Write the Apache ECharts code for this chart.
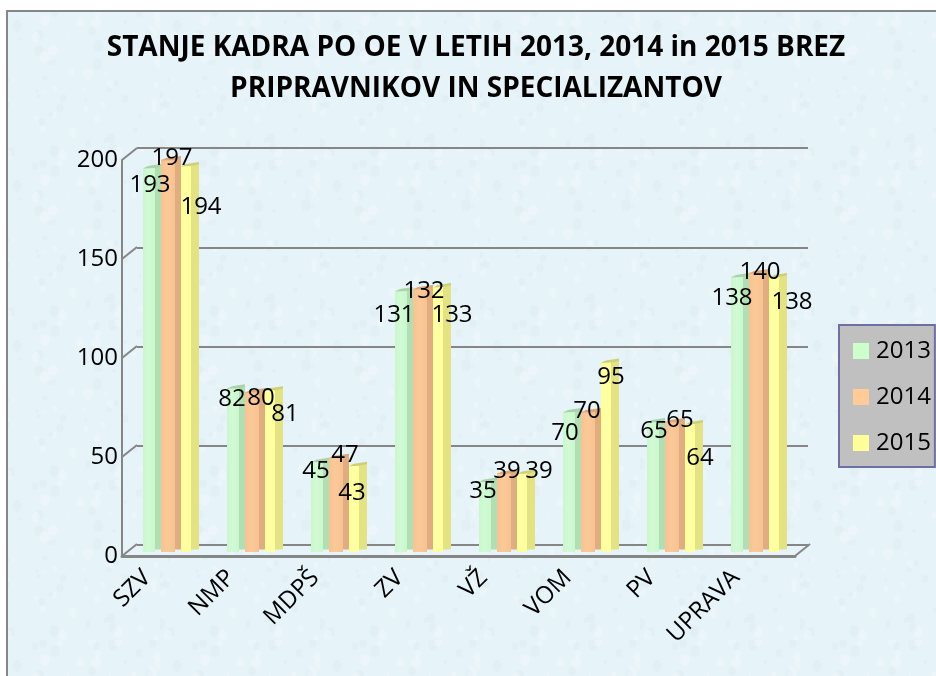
<!DOCTYPE html>
<html><head><meta charset="utf-8">
<style>html,body{margin:0;padding:0;background:#fff}#c{width:936px;height:676px}</style>
<script src="https://cdn.jsdelivr.net/npm/echarts@6/dist/echarts.min.js"></script>
</head><body><div id="c"></div>
<script>
var titleText = 'STANJE KADRA PO OE V LETIH 2013, 2014 in 2015 BREZ\nPRIPRAVNIKOV IN SPECIALIZANTOV';
var categories = ['SZV','NMP','MDPŠ','ZV','VŽ','VOM','PV','UPRAVA'];
var years = ['2013','2014','2015'];
var values2013 = [193,82,45,131,35,70,65,138];
var values2014 = [197,80,47,132,39,70,65,140];
var values2015 = [194,81,43,133,39,95,64,138];
var yTicks = [0,50,100,150,200];

/* data-label nudges relative to each bar's top centre, in px */
var labelNudge = [
  [[-2,18],[-4,11],[-4,10],[-10,25],[-5,10],[-7,22],[-2,10],[-8,22]],
  [[1,-1],[6,6],[6,-2],[1,3],[0,-2],[-4,0],[5,-1],[1,0]],
  [[11,42],[11,24],[-6,28],[10,29],[13,-2],[1,15],[6,35],[14,26]]
];
var barStyles = [
  {off:-28.5,w:18,split:12,light:'#c9f7cc',mid:'#d2fad5',side:'#b1deb3',top:'#a9d3aa'},
  {off:-10.5,w:20,split:14,light:'#f8c292',mid:'#fbc998',side:'#dfad80',top:'#d8a87c'},
  {off:9.5,w:18,split:10,light:'#ffff99',mid:'#ffffa6',side:'#e3e385',top:'#cfcf74'}
];
var legendColors = ['#ccffcc','#ffcc99','#ffff99'];
var FONT = '"Open Sans"';

function tile(){
  var s=160,c=document.createElement('canvas');c.width=s;c.height=s;
  var g=c.getContext('2d');g.fillStyle='#e6f3f8';g.fillRect(0,0,s,s);
  for(var i=0;i<90;i++){
    var x=(i*53+(i*i*7)%31)%s,y=(i*97+(i*i*11)%43)%s,r=2+(i*13)%5;
    g.beginPath();g.ellipse(x,y,r*0.8,r,0,0,Math.PI*2);
    g.fillStyle=i%2?'rgba(212,232,238,0.22)':'rgba(248,253,255,0.30)';g.fill();
  }
  return c;
}

function barSeries(idx,vals){
  var st=barStyles[idx];
  return {
    type:'custom',name:years[idx],xAxisIndex:2,yAxisIndex:2,z:3,
    itemStyle:{color:legendColors[idx]},
    encode:{x:0,y:1},
    data:vals.map(function(v,i){return [i,v];}),
    renderItem:function(p,api){
      var i=api.value(0),v=api.value(1);
      var top=api.coord([i,v]),base=api.coord([i,0]);
      var cx=top[0]+(st.off+st.w/2);
      var x0=top[0]+st.off,x1=x0+st.w,xs=x0+st.split,t=top[1],b=base[1];
      var n=labelNudge[idx][i];
      return {type:'group',children:[
        {type:'rect',shape:{x:x0,y:t,width:st.split,height:b-t+1.5},style:{fill:new echarts.graphic.LinearGradient(0,0,1,0,[
          {offset:0,color:st.light},{offset:.45,color:st.mid},{offset:1,color:st.light}])}},
        {type:'rect',shape:{x:xs,y:t-1,width:x1-xs,height:b-t},style:{fill:st.side}},
        {type:'polygon',shape:{points:[[x0,t+1],[x0+5,t-1.5],[x1,t-3.5],[x1,t-1],[xs,t+.5]]},style:{fill:st.top}},
        {type:'text',z2:100,x:cx+n[0],y:t+n[1],style:{text:String(v),fill:'#000',font:'24px '+FONT,align:'center',verticalAlign:'middle'}}
      ]};
    }
  };
}

var chart=echarts.init(document.getElementById('c'),null,{renderer:'canvas'});
var grids=[
  {left:122,width:673,top:160,height:396},
  {left:137,width:671,top:148,height:397},
  {left:129.5,width:672,top:153.5,height:397},
  {left:105,width:673,top:160,height:396}
];
function xa(extra){return Object.assign({type:'category',data:categories,axisTick:{show:false},axisLabel:{show:false},axisLine:{show:false},splitLine:{show:false}},extra||{});}
function ya(extra){return Object.assign({type:'value',min:0,max:200,interval:50,axisTick:{show:false},axisLabel:{show:false},axisLine:{show:false},splitLine:{show:false}},extra||{});}
var lineCol='#868686';
chart.setOption({
  animation:false,
  backgroundColor:'#fff',
  graphic:[{type:'rect',z:-10,silent:true,shape:{x:7,y:11,width:960,height:700},
    style:{fill:{image:tile(),repeat:'repeat'},stroke:lineCol,lineWidth:2}}],
  title:{text:titleText,left:471,top:23,textAlign:'center',textStyle:{fontFamily:FONT,fontWeight:'bold',fontSize:28,lineHeight:41,color:'#000'}},
  legend:{orient:'vertical',left:839,top:325,data:years,icon:'rect',itemWidth:16,itemHeight:16,itemGap:22,padding:[14,4,12,14],
    backgroundColor:'#c0c0c0',borderColor:'#6f6fa3',borderWidth:2,borderRadius:0,
    textStyle:{fontFamily:FONT,fontSize:24,color:'#000',padding:[0,0,0,2]}},
  grid:grids,
  xAxis:[
    xa({gridIndex:0,axisLine:{show:true,onZero:false,lineStyle:{color:lineCol,width:3}}}),
    xa({gridIndex:1}),
    xa({gridIndex:2}),
    xa({gridIndex:3,axisLabel:{show:true,interval:0,rotate:45,margin:18,fontFamily:FONT,fontSize:24,color:'#000'}})
  ],
  yAxis:[
    ya({gridIndex:0,axisLine:{show:true,lineStyle:{color:lineCol,width:2}},axisLabel:{show:true,margin:4,fontFamily:FONT,fontSize:24,color:'#000'}}),
    ya({gridIndex:1,splitLine:{show:true,lineStyle:{color:lineCol,width:2,type:'solid'}}}),
    ya({gridIndex:2}),
    ya({gridIndex:3})
  ],
  series:[
    {type:'custom',xAxisIndex:0,yAxisIndex:0,z:2,silent:true,data:yTicks.map(function(t){return [t];}),encode:{y:0},
     renderItem:function(p,api){
       var t=api.value(0),a=api.coord([0,t]);
       var x0=122,kids=[{type:'line',shape:{x1:x0,y1:a[1],x2:x0+15,y2:a[1]-12},style:{stroke:lineCol,lineWidth:2}}];
       if(t===0){var e=x0+673;kids.push({type:'line',shape:{x1:e,y1:a[1],x2:e+15,y2:a[1]-12},style:{stroke:lineCol,lineWidth:2}});}
       return {type:'group',children:kids};
     }},
    barSeries(0,values2013),barSeries(1,values2014),barSeries(2,values2015)
  ]
});
</script></body></html>
